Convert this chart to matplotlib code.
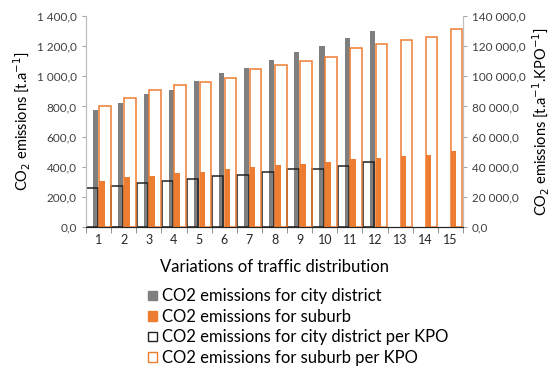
import matplotlib.pyplot as plt
import numpy as np
from matplotlib.patches import Patch
from matplotlib.ticker import FuncFormatter, MultipleLocator

plt.rcParams['font.family'] = ['Lato', 'DejaVu Sans']

variations = np.arange(1, 16)
city = [773, 824, 884, 911, 971, 1020, 1056, 1107, 1158, 1198, 1251, 1300]
suburb = [302, 331, 340, 358, 364, 382, 400, 409, 418, 433, 451, 460, 469, 478, 502]
city_kpo = [26000, 26900, 28900, 30200, 32000, 33800, 34700, 36400, 38200,
            38700, 40700, 42900]
suburb_kpo = [80200, 85500, 90900, 94000, 96200, 99100, 105100, 107600, 110200,
              112700, 118700, 121300, 123800, 126200, 131300]

gray = '#7f7f7f'
orange = '#ed7d31'


def fmt(v, pos):
    s = f'{v:,.1f}'.replace(',', ' ').replace('.', ',')
    return s


fig = plt.figure(figsize=(5.57, 3.68), dpi=100)
ax = fig.add_axes([86 / 557, 1 - 227 / 368, 377 / 557, 211 / 368])
ax2 = ax.twinx()

x_city = variations[:len(city)]
ax.bar(x_city - 0.11, city, width=0.2, color=gray)
ax.bar(variations + 0.13, suburb, width=0.22, color=orange)
ax2.bar(x_city - 0.26, city_kpo, width=0.46, facecolor='none',
        edgecolor='#222222', linewidth=1.1)
ax2.bar(variations + 0.25, suburb_kpo, width=0.46, facecolor='none',
        edgecolor=orange, linewidth=1.1)

ax.set_xlim(0.5, 15.5)
ax.set_ylim(0, 1400)
ax2.set_ylim(0, 140000)
ax.yaxis.set_major_locator(MultipleLocator(200))
ax2.yaxis.set_major_locator(MultipleLocator(20000))
ax.yaxis.set_major_formatter(FuncFormatter(fmt))
ax2.yaxis.set_major_formatter(FuncFormatter(fmt))

ax.set_xticks(variations)
ax.set_xticks(np.arange(0.5, 16, 1), minor=True)
ax.tick_params(axis='x', which='major', length=0, pad=5, labelsize=9,
               labelcolor='#262626')
ax.tick_params(axis='x', which='minor', length=4, color='#808080')
ax.tick_params(axis='y', length=3, color='#a6a6a6', labelsize=8.5,
               labelcolor='#404040')
ax2.tick_params(axis='y', length=3, color='#a6a6a6', labelsize=8.5,
                labelcolor='#404040')

for a in (ax, ax2):
    a.spines['top'].set_visible(False)
    a.spines['left'].set_color('#bfbfbf')
    a.spines['right'].set_color('#bfbfbf')
    a.spines['bottom'].set_color('#262626')

ax.set_ylabel('CO$_2$ emissions [t.a$^{-1}$]', fontsize=10.5, labelpad=3)
ax2.set_ylabel('CO$_2$ emissions [t.a$^{-1}$.KPO$^{-1}$]', fontsize=10.5,
               labelpad=4)
ax.set_xlabel('Variations of traffic distribution', fontsize=12)
ax.xaxis.set_label_coords(0.5, -(259 - 227) / 211)

handles = [
    Patch(facecolor=gray, edgecolor=gray),
    Patch(facecolor=orange, edgecolor=orange),
    Patch(facecolor='white', edgecolor='#222222'),
    Patch(facecolor='white', edgecolor=orange),
]
labels = ['CO2 emissions for city district', 'CO2 emissions for suburb',
          'CO2 emissions for city district per KPO',
          'CO2 emissions for suburb per KPO']
fig.legend(handles, labels, loc='upper left',
           bbox_to_anchor=(140 / 557, 1 - 280 / 368),
           frameon=False, fontsize=12, handlelength=0.5, handleheight=0.5,
           handletextpad=0.35, labelspacing=0.27, borderpad=0)

fig.savefig('out.png', dpi=100)
